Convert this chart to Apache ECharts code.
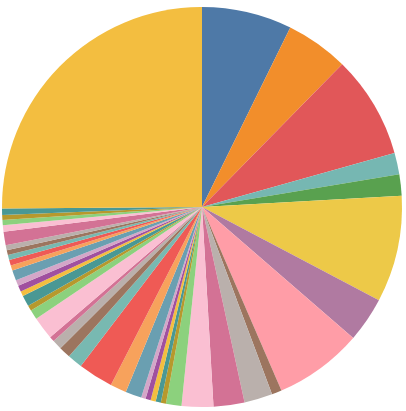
<!DOCTYPE html>
<html>
<head>
<meta charset="utf-8">
<script src="https://cdn.jsdelivr.net/npm/echarts@6/dist/echarts.min.js"></script>
<style>
html,body{margin:0;padding:0;background:#fff;}
#chart{width:406px;height:411px;}
</style>
</head>
<body>
<div id="chart"></div>
<script>
var categories = [];
for (var i = 1; i <= 44; i++) { categories.push('Item ' + i); }

var values = [
  26.2, 18.3, 29.8, 6.3, 6.2, 31.0, 13.1, 25.7, 2.9, 8.2,
  9.0, 9.2, 4.5, 1.5, 1.5, 1.5, 1.5, 1.3, 4.7, 4.7,
  10.2, 4.4, 3.4, 2.8, 1.5, 6.6, 2.8, 1.6, 3.2, 1.4,
  1.8, 1.7, 3.0, 1.5, 1.6, 1.5, 1.4, 1.5, 3.9, 1.9,
  1.5, 1.4, 1.9, 90.4
];

var firstColors = ['#4e79a7','#f28e2b','#e15759','#76b7b2','#59a14f','#edc948','#b07aa1','#ff9da7','#9c755f','#bab0ac'];
var cycleColors = ['#d37295','#fabfd2','#8cd17d','#b6992d','#499894','#f3be40','#a0509f','#d4a6c8','#6a9fb1','#f7a25c','#ef5a55','#78b9b1','#9c755f','#bab0ac'];

var colors = [];
for (var k = 0; k < values.length; k++) {
  colors.push(k < firstColors.length ? firstColors[k] : cycleColors[(k - firstColors.length) % cycleColors.length]);
}

var data = categories.map(function (c, idx) {
  return { name: c, value: values[idx], itemStyle: { color: colors[idx] } };
});

var chart = echarts.init(document.getElementById('chart'), null, { renderer: 'canvas' });
chart.setOption({
  animation: false,
  series: [{
    type: 'pie',
    center: [202, 207],
    radius: [0, 200],
    startAngle: 90,
    clockwise: true,
    minAngle: 0,
    avoidLabelOverlap: false,
    label: { show: false },
    labelLine: { show: false },
    itemStyle: { borderWidth: 0 },
    emphasis: { disabled: true },
    data: data
  }]
});
</script>
</body>
</html>
